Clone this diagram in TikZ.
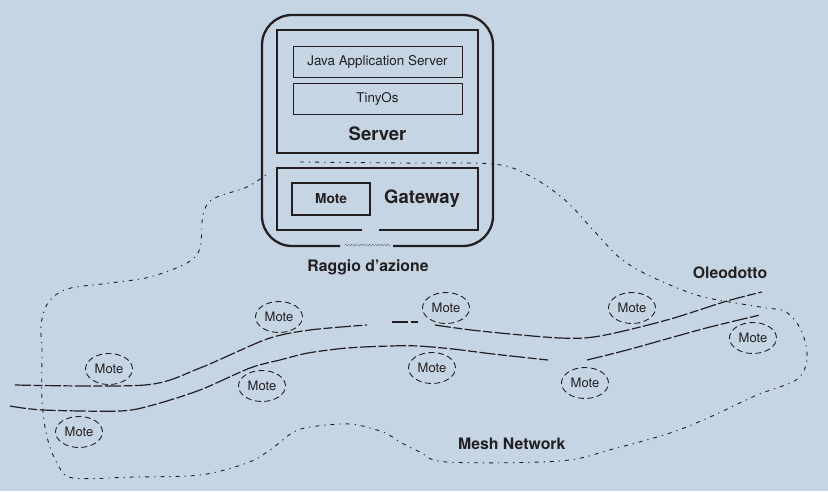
\documentclass[tikz,border=0pt]{standalone}
\usepackage{fontspec}
\setmainfont{TeX Gyre Heros}
\usetikzlibrary{shapes.geometric,decorations.pathmorphing}
\definecolor{bg}{RGB}{197,213,228}
\definecolor{ink}{RGB}{35,31,32}
\begin{document}
\begin{tikzpicture}[x=1pt,y=-1pt,
  every node/.style={text=ink},
  thickbox/.style={draw=ink,line width=2pt},
  thinbox/.style={draw=ink,line width=0.9pt},
  bigbold/.style={font=\fontsize{18.5}{20}\selectfont\bfseries},
  midbold/.style={font=\fontsize{15.8}{18}\selectfont\bfseries},
  smalltxt/.style={font=\fontsize{13.4}{15}\selectfont},
  mote/.style={ellipse,draw=ink,line width=0.9pt,dash pattern=on 6pt off 3.5pt,
     minimum width=47pt,minimum height=31pt,inner sep=0pt,
     font=\fontsize{13}{15}\selectfont},
  loopline/.style={draw=ink,line width=0.9pt,dash pattern=on 4pt off 5pt on 1.2pt off 5pt},
  pipe/.style={draw=ink,line width=1.2pt,dash pattern=on 16pt off 2.5pt on 9pt off 2.5pt}
]
\fill[bg] (0,0) rectangle (828,491);
\useasboundingbox (0,0) rectangle (828,491);

% range / mesh boundary loop
\draw[loopline] plot[smooth,tension=0.55] coordinates {
 (300,162) (400,163) (493,164) (530,176) (565,200) (595,232) (620,258) (650,276)
 (700,296) (760,307) (786,312) (802,332) (807,360) (796,380) (757,395) (710,417)
 (670,433) (613,449) (560,461) (447,462) (420,452) (400,442) (383,432) (350,424)
 (310,427) (292,433) (270,450) (247,463) (200,475) (133,477) (73,478) (58,465)
 (47,437) (42,400) (42,350) (41,325) (48,303) (67,289) (110,283) (150,277)
 (187,263) (200,248) (203,215) (213,199) (247,187) (267,174)};

% outer rounded box
\draw[draw=ink,line width=2.3pt,rounded corners=30pt]
  (340,246) -- (262,246) -- (262,15) -- (493,15) -- (493,246) -- (393,246);
\draw[draw=ink,line width=0.5pt,densely dotted,decorate,
  decoration={zigzag,amplitude=1pt,segment length=3pt}] (345,245) -- (391,245);

% server box
\draw[thickbox] (277,30) rectangle (478,153);
\draw[thinbox] (293,46) rectangle (462,77);
\draw[thinbox] (293,83) rectangle (462,114);
\node[smalltxt] (java) at (377.5,61.5) {Java Application Server};
\node[smalltxt] (tiny) at (377.5,98.5) {TinyOs};
\node[bigbold] (server) at (377.5,134) {Server};

% gateway box
\draw[thickbox] (362,230) -- (277,230) -- (277,168) -- (478,168) -- (478,230) -- (379,230);
\draw[draw=ink,line width=2.5pt] (292,183) rectangle (370,215);
\node[font=\fontsize{13.7}{15}\selectfont\bfseries] (gwmote) at (331,199) {Mote};
\node[bigbold] (gateway) at (422,199) {Gateway};

\node[midbold] (raggio) at (368,267) {Raggio d’azione};
\node[midbold] (oleo) at (730,273) {Oleodotto};
\node[midbold,anchor=west,inner sep=0pt] (mesh) at (458,444) {Mesh Network};

% pipeline
\draw[pipe] plot[smooth,tension=0.5] coordinates {
 (15,385) (145,385) (200,368) (267,339) (310,330) (367,325)};
\draw[pipe] (392,322) -- (418,322);
\draw[pipe] plot[smooth,tension=0.5] coordinates {
 (435,325) (480,331) (560,338) (600,336) (667,320) (727,301) (762,292)};
\draw[pipe] plot[smooth,tension=0.5] coordinates {
 (10,406) (43,410) (120,411) (153,405) (200,390) (250,368) (280,360) (308,353)
 (347,348) (390,346) (418,346) (453,349) (493,354) (548,360)};
\draw[pipe] plot[smooth,tension=0.5] coordinates {
 (587,360) (627,350) (670,338) (710,327) (760,315)};

% motes
\node[mote] (m1) at (279,317) {Mote};
\node[mote] (m2) at (109,369) {Mote};
\node[mote] (m3) at (79,432) {Mote};
\node[mote] (m4) at (262,386) {Mote};
\node[mote] (m5) at (446,308) {Mote};
\node[mote] (m6) at (432,368) {Mote};
\node[mote] (m7) at (632,308) {Mote};
\node[mote] (m8) at (753,338) {Mote};
\node[mote] (m9) at (585,383) {Mote};
\end{tikzpicture}
\end{document}
